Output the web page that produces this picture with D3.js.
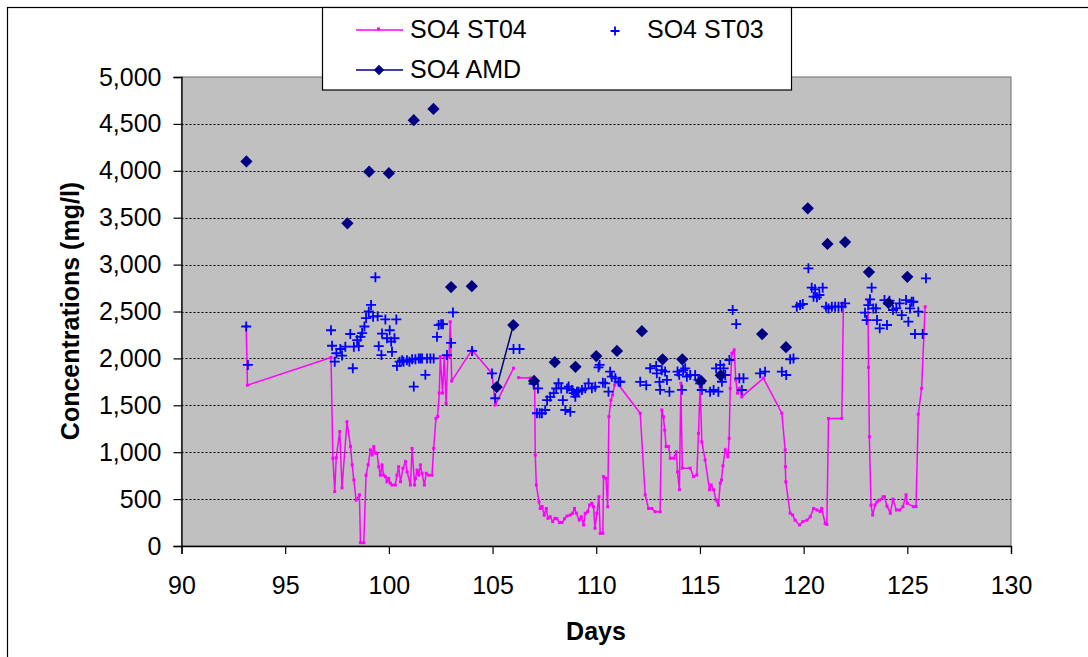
<!DOCTYPE html>
<html><head><meta charset="utf-8">
<script src="https://cdn.jsdelivr.net/npm/d3@7"></script>
<style>html,body{margin:0;padding:0;background:#fff;}svg{display:block;font-family:"Liberation Sans",Arial,sans-serif;}</style>
</head><body><svg id="c" width="1088" height="657"></svg>
<script>
// ---- data ----
const xTicks = [90,95,100,105,110,115,120,125,130];
const yTicks = [0,500,1000,1500,2000,2500,3000,3500,4000,4500,5000];
const seriesNames = ["SO4 ST04","SO4 ST03","SO4 AMD"];
// SO4 ST04: [day, mg/l]; null = gap in line
const st04 = [
[93.12,2340],[93.18,1715],[97.21,2010],[97.3,935],[97.39,580],[97.46,940],[97.63,1220],[97.74,620],[97.98,1325],[98.15,1060],[98.23,865],[98.31,705],[98.42,490],[98.58,545],[98.63,35],[98.79,35],[98.9,755],[99.0,865],[99.11,1025],[99.19,970],[99.27,1060],[99.35,990],[99.43,990],[99.51,845],[99.59,755],[99.67,865],[99.75,755],[99.83,740],[99.91,685],[99.99,720],[100.07,670],[100.15,650],[100.31,650],[100.39,755],[100.47,845],[100.56,685],[100.68,828],[100.8,900],[100.88,790],[101.04,650],[101.12,1040],[101.24,650],[101.28,720],[101.36,810],[101.44,755],[101.52,865],[101.6,775],[101.71,650],[101.8,775],[101.92,755],[102.08,755],[102.16,1040],[102.27,1360],[102.35,1380],[102.43,1630],[102.48,2020],[102.59,1630],[102.67,2020],[102.76,1520],[102.84,2020],[102.9,2020],[102.96,2390],[103.03,1760],[104.01,2090],[104.97,1840],[105.13,1505],[106.01,1895],[106.1,null],
[106.26,1795],[106.82,1790],[107.03,1680],[107.06,970],[107.11,650],[107.24,470],[107.3,400],[107.39,420],[107.49,330],[107.59,400],[107.67,295],[107.78,312],[107.9,260],[108.0,295],[108.11,290],[108.23,250],[108.35,250],[108.47,290],[108.59,320],[108.75,330],[108.86,350],[108.95,400],[109.04,350],[109.18,277],[109.28,312],[109.39,224],[109.47,348],[109.58,366],[109.68,437],[109.79,455],[109.87,419],[109.94,189],[110.03,348],[110.13,525],[110.19,135],[110.32,135],[110.35,739],[110.47,721],[110.55,419],[110.61,1378],[110.71,1556],[110.79,1610],[110.88,1716],[111.0,1741],[112.12,1415],[112.36,545],[112.52,400],[112.68,400],[112.84,365],[113.08,365],[113.16,1450],[113.24,1378],[113.3,1235],[113.37,1060],[113.49,1060],[113.57,935],[113.73,935],[113.86,1005],[113.92,790],[114.01,600],[114.08,1735],[114.15,830],[114.53,830],[114.69,740],[114.85,757],[114.93,1200],[115.01,1700],[115.09,1110],[115.25,917],[115.46,600],[115.54,650],[115.66,600],[115.78,490],[115.89,435],[115.98,670],[116.04,705],[116.11,855],[116.22,1025],[116.35,950],[116.41,1148],[116.46,1680],[116.54,2055],[116.65,2090],[116.73,1770],[116.81,1630],[116.9,1680],[117.02,1590],[118.06,1790],[118.95,1415],[119.11,1025],[119.12,845],[119.14,685],[119.35,350],[119.47,330],[119.59,275],[119.8,225],[119.96,260],[120.16,275],[120.32,312],[120.48,400],[120.64,384],[120.8,366],[120.87,400],[121.04,240],[121.12,230],[121.2,1360],[121.84,1360],[121.92,2590],[122.5,null],
[123.1,2620],[123.13,1905],[123.17,1165],[123.25,435],[123.33,330],[123.44,437],[123.54,470],[123.67,490],[123.83,525],[123.9,525],[124.02,425],[124.18,350],[124.31,500],[124.47,384],[124.63,384],[124.79,419],[124.94,545],[125.0,455],[125.29,420],[125.42,420],[125.53,1405],[125.69,1680],[125.86,2550]
];
// SO4 ST03: [day, mg/l]
const st03 = [
[93.12,2340],[93.2,1930],[97.21,2300],[97.26,2135],[97.39,1965],[97.47,2055],[97.66,2100],[97.74,2030],[97.9,2125],[98.14,2260],[98.26,1895],[98.31,2125],[98.47,2195],[98.55,2130],[98.63,2230],[98.71,2270],[98.82,2340],[98.9,2430],[99.03,2500],[99.14,2570],[99.24,2445],[99.35,2865],[99.46,2450],[99.51,2130],[99.64,2035],[99.67,2265],[99.83,2415],[99.91,2215],[100.04,2300],[100.11,2180],[100.15,2070],[100.27,2215],[100.36,2415],[100.39,1920],[100.52,1965],[100.64,1980],[100.71,1965],[100.87,1980],[100.99,1965],[101.12,1990],[101.2,1700],[101.28,1990],[101.44,2000],[101.52,2000],[101.6,2000],[101.76,1825],[101.84,2000],[102.0,2000],[102.16,2000],[102.32,2230],[102.4,2355],[102.52,2365],[102.61,2365],[102.8,2035],[103.0,2165],[103.09,2490],[104.01,2080],[104.97,1840],[105.13,1575],[106.01,2100],[106.3,2100],[106.98,1730],[107.19,1680],[107.14,1415],[107.27,1415],[107.38,1415],[107.54,1450],[107.63,1555],[107.78,1590],[107.95,1630],[108.07,1680],[108.18,1735],[108.31,1680],[108.39,1555],[108.51,1450],[108.59,1680],[108.67,1700],[108.75,1430],[108.83,1663],[108.91,1630],[108.99,1592],[109.07,1645],[109.15,1645],[109.31,1663],[109.47,1681],[109.63,1734],[109.79,1681],[109.95,1698],[110.11,1905],[110.16,1930],[110.32,1741],[110.43,1734],[110.59,1645],[110.67,1858],[110.75,1805],[110.92,1788],[111.08,1751],[111.16,1751],[112.12,1750],[112.41,1715],[112.6,1895],[112.89,1919],[112.92,1841],[113.05,1750],[113.08,1665],[113.16,1875],[113.32,1860],[113.41,1770],[113.53,1645],[113.92,1860],[114.0,1825],[114.13,1665],[114.19,1876],[114.29,1894],[114.37,1805],[114.53,1823],[114.77,1823],[114.93,1770],[115.01,1734],[115.09,1663],[115.49,1645],[115.66,1663],[115.78,1894],[115.89,1645],[115.98,1930],[116.06,1751],[116.14,1894],[116.22,1823],[116.42,1983],[116.58,2516],[116.75,2366],[116.9,1788],[117.02,1663],[117.1,1788],[117.9,1841],[118.14,1858],[118.95,1858],[119.16,1823],[119.35,1990],[119.51,2000],[119.67,2551],[119.83,2569],[119.96,2580],[120.23,2960],[120.39,2754],[120.48,2658],[120.55,2736],[120.64,2651],[120.76,2676],[120.92,2754],[121.08,2551],[121.2,2533],[121.36,2551],[121.52,2551],[121.68,2551],[121.84,2551],[122.0,2587],[122.96,2487],[123.04,2409],[123.12,2569],[123.2,2630],[123.28,2754],[123.36,2533],[123.49,2533],[123.54,2409],[123.67,2321],[123.9,2622],[124.02,2356],[124.14,2615],[124.31,2516],[124.47,2533],[124.63,2587],[124.73,2462],[124.94,2622],[125.05,2391],[125.13,2533],[125.21,2604],[125.29,2604],[125.37,2260],[125.53,2498],[125.74,2260],[125.9,2854]
];
// SO4 AMD: [day, mg/l]; null = gap
const amd = [
[93.13,4100],[95,null],[98.0,3440],[98.5,null],[99.05,3990],[99.5,null],[100.0,3975],[100.5,null],[101.2,4540],[101.6,null],[102.15,4660],[102.5,null],[103.0,2760],[103.5,null],[104.0,2770],[104.5,null],[105.2,1695],[106.0,2355],[106.5,null],[107.0,1760],[107.5,null],[108.0,1960],[108.5,null],[109.0,1910],[109.5,null],[110.0,2025],[110.5,null],[111.0,2080],[111.5,null],[112.2,2290],[112.7,null],[113.2,1990],[113.7,null],[114.15,1990],[114.6,null],[115.05,1760],[115.5,null],[116.0,1820],[117,null],[118.0,2260],[118.5,null],[119.15,2120],[119.7,null],[120.2,3600],[120.7,null],[121.15,3220],[121.6,null],[122.0,3240],[122.6,null],[123.15,2920],[123.6,null],[124.1,2590],[124.5,null],[125.0,2870]
];

// ---- chart ----
const svg = d3.select("#c");
const x = d3.scaleLinear().domain([90,130]).range([181.5,1011]);
const y = d3.scaleLinear().domain([0,5000]).range([546,77]);
const FONT = "Liberation Sans, Arial, sans-serif";
const FS = 25;

// outer chart border
svg.append("rect").attr("x",7.5).attr("y",7.5).attr("width",1100).attr("height",700)
  .attr("fill","#fff").attr("stroke","#000").attr("stroke-width",1.2);

// plot area
svg.append("rect").attr("x",x(90)).attr("y",y(5000)).attr("width",x(130)-x(90)).attr("height",y(0)-y(5000))
  .attr("fill","#C0C0C0").attr("stroke","#808080").attr("stroke-width",1.2);

// gridlines
svg.append("g").selectAll("line").data(yTicks.filter(d=>d>0&&d<5000)).join("line")
  .attr("x1",x(90)).attr("x2",x(130)).attr("y1",d=>Math.round(y(d))+0.5).attr("y2",d=>Math.round(y(d))+0.5)
  .attr("stroke","#000").attr("stroke-width",1).attr("stroke-dasharray","2,2");

// axes
const yAxis = d3.axisLeft(y).tickValues(yTicks).tickSize(8).tickPadding(12).tickFormat(d3.format(","));
const gy = svg.append("g").attr("transform",`translate(${x(90)},0)`).call(yAxis);
const xAxis = d3.axisBottom(x).tickValues(xTicks).tickSize(8).tickPadding(22).tickFormat(d3.format("d"));
const gx = svg.append("g").attr("transform",`translate(0,${y(0)})`).call(xAxis);
[gx,gy].forEach(g=>{
  g.select(".domain").attr("stroke","#000").attr("stroke-width",1.3);
  g.selectAll(".tick line").attr("stroke","#000").attr("stroke-width",1.2);
  g.selectAll("text").attr("font-family",FONT).attr("font-size",FS).attr("fill","#000");
});

// axis titles
svg.append("text").attr("x",596).attr("y",640).attr("text-anchor","middle")
  .attr("font-family",FONT).attr("font-size",FS).attr("font-weight","bold").text("Days");
svg.append("text").attr("transform","translate(79,311) rotate(-90)").attr("text-anchor","middle")
  .attr("font-family",FONT).attr("font-size",FS).attr("font-weight","bold").text("Concentrations (mg/l)");

const plot = svg.append("g");

// ST04 line
const line = d3.line().defined(d=>d[1]!==null).x(d=>x(d[0])).y(d=>y(d[1]));
plot.append("path").datum(st04).attr("d",line).attr("fill","none").attr("stroke","#FF00FF").attr("stroke-width",1.5);
plot.append("g").selectAll("rect").data(st04.filter(d=>d[1]!==null)).join("rect")
  .attr("x",d=>x(d[0])-1.5).attr("y",d=>y(d[1])-1.5).attr("width",3).attr("height",3).attr("fill","#FF00FF");

// ST03 plus markers
const plus = (g,cx,cy,s)=>g.append("path").attr("d",`M${cx-s},${cy}H${cx+s}M${cx},${cy-s}V${cy+s}`)
  .attr("stroke","#0000FF").attr("stroke-width",1.8).attr("fill","none");
const gp = plot.append("g");
st03.forEach(d=>plus(gp,x(d[0]),y(d[1]),5));

// AMD line + diamonds
plot.append("path").datum(amd).attr("d",line).attr("fill","none").attr("stroke","#000080").attr("stroke-width",1.5);
plot.append("g").selectAll("path").data(amd.filter(d=>d[1]!==null)).join("path")
  .attr("d",d3.symbol().type(d3.symbolSquare).size(75))
  .attr("transform",d=>`translate(${x(d[0])},${y(d[1])}) rotate(45)`).attr("fill","#000080");

// legend
const lg = svg.append("g");
lg.append("rect").attr("x",322.5).attr("y",7.5).attr("width",469).attr("height",82.5).attr("fill","#fff").attr("stroke","#000").attr("stroke-width",1.2);
const items = [
  {name:seriesNames[0], lx:356, ty:30, tx:410, type:"st04"},
  {name:seriesNames[1], lx:595, ty:30, tx:647, type:"st03"},
  {name:seriesNames[2], lx:356, ty:70, tx:410, type:"amd"}
];
items.forEach(it=>{
  if(it.type==="st04"){
    lg.append("line").attr("x1",it.lx).attr("x2",it.lx+47).attr("y1",it.ty).attr("y2",it.ty).attr("stroke","#FF00FF").attr("stroke-width",1.5);
    lg.append("rect").attr("x",it.lx+21).attr("y",it.ty-2.5).attr("width",3).attr("height",3).attr("fill","#FF00FF");
  } else if(it.type==="st03"){
    plus(lg,it.lx+20,it.ty+1,4.5);
  } else {
    lg.append("line").attr("x1",it.lx).attr("x2",it.lx+47).attr("y1",it.ty).attr("y2",it.ty).attr("stroke","#000080").attr("stroke-width",1.5);
    lg.append("path").attr("d",d3.symbol().type(d3.symbolSquare).size(55)).attr("transform",`translate(${it.lx+23},${it.ty}) rotate(45)`).attr("fill","#000080");
  }
  lg.append("text").attr("x",it.tx).attr("y",it.ty+8).attr("font-family",FONT).attr("font-size",FS).text(it.name);
});
</script></body></html>
